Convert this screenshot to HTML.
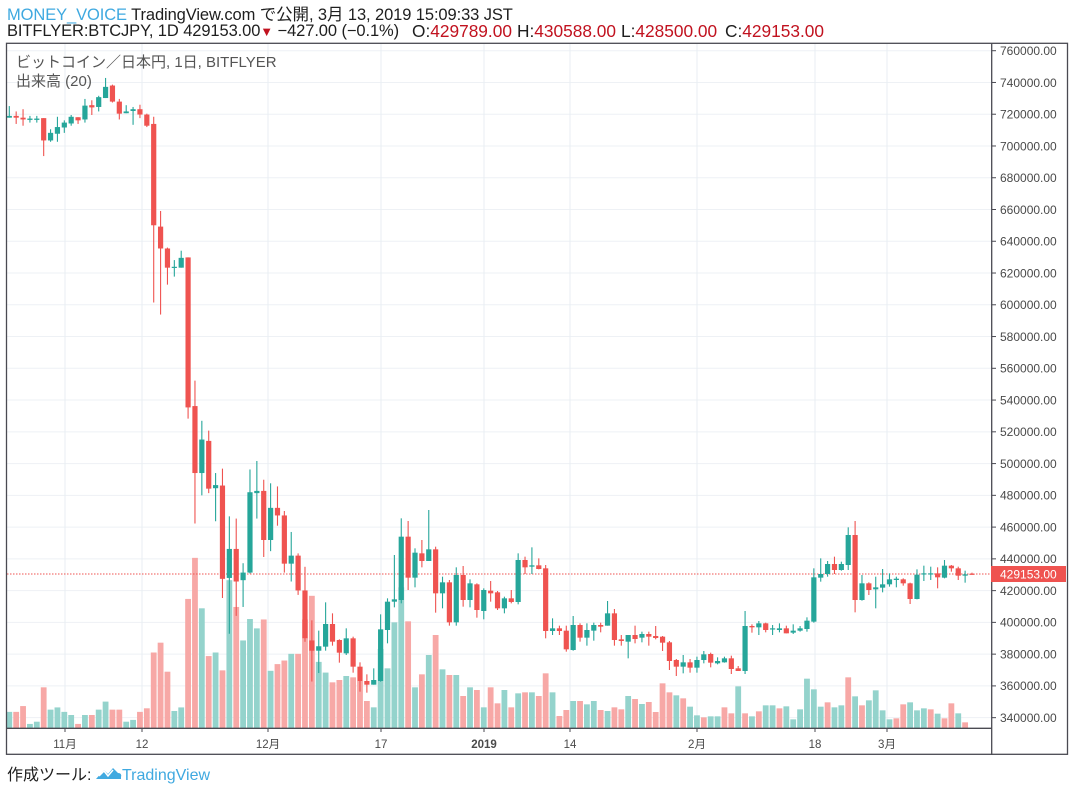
<!DOCTYPE html>
<html><head><meta charset="utf-8">
<style>
html,body{margin:0;padding:0;background:#fff;width:1074px;height:792px;overflow:hidden;font-family:"Liberation Sans","Noto Sans CJK JP",sans-serif;}
.h{position:absolute;font-size:16.5px;line-height:16px;height:16px;color:#1e1e1e;white-space:nowrap;letter-spacing:-0.1px}
.v{font-size:17.3px;letter-spacing:0}
.r{color:#c1121f}
svg text{font-family:"Liberation Sans","Noto Sans CJK JP",sans-serif;}
</style></head><body>
<div class="h" style="top:7px;left:7px"><span style="color:#3fa9e0">MONEY_VOICE</span> TradingView.com で公開, 3月 13, 2019 15:09:33 JST</div>
<div class="h" style="top:23px;left:7px">BITFLYER:BTCJPY, 1D 429153.00<span class="r" style="font-size:13px">▼</span> −427.00 (−0.1%)</div>
<div class="h v" style="top:23px;left:412px">O:<span class="r">429789.00</span></div>
<div class="h v" style="top:23px;left:517px">H:<span class="r">430588.00</span></div>
<div class="h v" style="top:23px;left:621px">L:<span class="r">428500.00</span></div>
<div class="h v" style="top:23px;left:725px">C:<span class="r">429153.00</span></div>
<svg id="s" width="1074" height="792" style="position:absolute;left:0;top:0">
<g id="grid"></g>
<g id="vol"></g>
<line x1="7" y1="574" x2="991" y2="574" stroke="#ef5350" stroke-width="1" stroke-dasharray="1.5,1.5"/>
<g id="cand"></g>
<rect x="6.5" y="43.3" width="1061" height="711" fill="none" stroke="#4a4a52" stroke-width="1.3"/>
<line x1="991.7" y1="43" x2="991.7" y2="755" stroke="#4a4a52" stroke-width="1.3"/>
<line x1="7" y1="728.3" x2="991.7" y2="728.3" stroke="#4a4a52" stroke-width="1.3"/>
<g id="ticks" font-size="12" fill="#4a4a4a"></g>
<rect x="991" y="566" width="75" height="16" fill="#ef5350"/>
<text x="1000" y="578.5" font-size="12" fill="#fff">429153.00</text>
<g font-size="11.5" fill="#4a4a4a" text-anchor="middle">
<text x="65" y="748">11月</text><text x="142" y="748">12</text><text x="268" y="748">12月</text><text x="381" y="748">17</text><text x="484" y="748" font-weight="bold">2019</text><text x="570" y="748">14</text><text x="697" y="748">2月</text><text x="815" y="748">18</text><text x="887" y="748">3月</text>
</g>
<text x="16" y="67" font-size="15" fill="#555">ビットコイン／日本円, 1日, BITFLYER</text>
<text x="16" y="86" font-size="15" fill="#555">出来高 (20)</text>
<text x="7" y="780" font-size="16" fill="#1e1e1e">作成ツール:</text>
<path d="M96 779 L104 770 L108 774 L113 768 L118 773 Q122 773 121 777 L121 779 Z" fill="#3fa9e0"/>
<path d="M99 776 L104 771 L108 776 L113 770" fill="none" stroke="#fff" stroke-width="1.5"/>
<text x="122" y="780" font-size="16" fill="#3fa9e0">TradingView</text>
</svg>
<script>
var A=[
['G',170,174,148,174],['R',170,174,160,188],['R',174,178,155,192],['G',176,179,170,185],['G',176,179,170,185],['R',175,225,175,260],['G',208,225,200,228],['G',195,210,172,228],['G',185,196,180,208],['G',172,187,168,192],['R',173,180,173,188],['G',147,178,132,185],['R',146,151,135,168],['G',128,150,125,160],['G',105,130,85,130],['R',102,138,100,140],['R',138,165,132,178],['G',160,164,146,164],['G',155,159,150,190],['R',155,167,145,175],['R',167,192,165,195],['R',188,415,172,588],['R',418,467,383,615],['R',467,510,465,548],['G',508,510,493,530],['G',488,510,472,510],['R',487,823,487,848],['R',820,970,763,1083],['G',895,970,853,1020],['R',898,1005,875,1015],['G',997,1004,970,1078],['R',998,1207,960,1250],['G',1140,1205,1067,1330],['R',1140,1213,1072,1290],['G',1193,1210,1172,1270],['G',1013,1193,962,1195],['G',1010,1015,943,1072],['R',1010,1120,985,1158],['G',1048,1120,993,1145],['R',1048,1065,1000,1088],['R',1065,1173,1055,1193],['G',1155,1173,1102,1213],['R',1155,1233,1150,1243],['R',1233,1340,1180,1348],['R',1345,1368,1300,1437],['G',1358,1368,1323,1418]];
var AV=[1505,1505,1492,1532,1527,1450,1500,1495,1505,1512,1532,1512,1512,1500,1482,1500,1500,1527,1523,1505,1497,1372,1350,1415,1503,1495,1252,1160,1273,1380,1372,1412,1210,1270,1345,1297,1318,1298,1413,1398,1390,1375,1375,1298,1245,1393];
var B=[
['G',432,500,367,512],['R',432,485,400,497],['R',480,518,478,548],['G',475,520,445,525],['R',475,560,470,578],['R',560,603,547,635],['R',603,614,583,638],['G',600,614,565,614],['G',448,603,403,605],['G',365,450,355,490],['G',358,365,225,382],['G',170,360,115,370],['R',170,293,123,330],['G',218,293,205,322],['R',220,243,180,262],['G',208,243,90,243],['R',208,340,200,398],['G',307,340,290,385],['R',307,427,300,437],['G',285,427,262,437],['R',285,360,258,380],['G',310,360,298,382],['R',313,390,310,413],['G',330,393,325,418],['R',332,340,303,365],['R',337,385,333,390],['G',355,385,350,400],['R',355,366,330,370],['G',240,366,220,373],['R',240,262,230,282],['G',256,260,202,282],['R',256,267,235,268],['R',265,453,255,475],['G',445,453,415,465],['R',445,453,437,465],['R',452,508,437,515],['G',435,510,408,512],['R',435,473,430,485],['G',450,473,430,497],['G',435,452,428,482],['R',435,440,428,457],['G',400,437,363,437],['R',400,480,387,497],['R',478,483,465,497],['G',465,485,465,535],['R',465,477,437,490],['G',462,473,455,487],['R',462,470,455,497]];
var BV=[578,607,600,588,592,603,663,682,507,565,427,322,424,622,583,525,465,568,585,585,648,622,630,682,622,670,630,682,640,637,637,648,580,637,708,690,663,663,673,663,690,693,682,688,648,657,672,666];
var C=[
['R',468,474,438,478],['R',470,488,468,513],['R',487,543,483,570],['R',540,560,537,588],['G',547,560,525,580],['R',547,563,537,578],['G',540,563,530,578],['G',523,540,513,550],['R',522,548,518,562],['G',543,550,532,553],['G',535,547,530,548],['R',535,567,527,582],['R',565,573,558,573],['G',438,573,393,582],['R',438,442,433,458],['G',430,442,423,465],['R',430,450,428,457],['G',445,448,435,465],['G',445,450,430,457],['R',445,460,437,460],['G',452,458,433,462],['G',445,452,438,455],['G',422,447,412,455],['G',292,425,265,428],['G',282,293,235,305],['G',252,282,243,290],['R',252,270,230,282],['G',252,270,245,272],['G',165,255,142,270],['R',165,360,123,397],['G',310,360,285,362],['R',310,330,307,345],['G',322,328,290,385],['G',313,323,267,337],['G',298,313,280,320],['G',296,300,290,322],['R',298,310,295,317],['R',310,357,308,372],['G',284,357,268,358],['G',280,283,257,303],['G',280,283,260,300],['R',280,292,262,325],['G',257,293,240,295],['R',257,265,255,275],['R',265,287,260,300],['G',283,287,272,308],['R',281,283,278,284]];
var CV=[690,696,610,637,646,655,680,706,712,709,709,682,700,619,700,709,694,676,676,685,679,718,688,596,628,680,667,682,676,592,649,676,661,631,691,718,715,673,667,691,685,688,701,715,670,700,727];
var CC=['R','R','R','R','G','R','G','G','R','G','G','R','R','G','R','G','R','G','G','R','G','G','G','G','G','G','R','G','G','R','G','R','G','G','G','G','R','R','G','G','G','R','G','R','R','G','R'];
var BC=B.map(function(d){return d[0]});var AC=A.map(function(d){return d[0]});AC.push('G');
function fa(z){return 40+z/2.24} function fb(z){return 480+z/3}
var cand=[],vols=[];
A.forEach(function(d){cand.push([d[0],fa(d[1]),fa(d[2]),fa(d[3]),fa(d[4])])});
AV.push(1417);AV.forEach(function(v,i){vols.push([AC[i],fa(v)])});
B.forEach(function(d){cand.push([d[0],fb(d[1]),fb(d[2]),fb(d[3]),fb(d[4])])});
BV.forEach(function(v,i){if(i>0)vols.push([BC[i],fb(v)])});
C.forEach(function(d){cand.push([d[0],fb(d[1]),fb(d[2]),fb(d[3]),fb(d[4])])});
CV.forEach(function(v,i){if(i>0)vols.push([CC[i],fb(v)])});
var n=cand.length,x0=9.3,sp=(972-9.3)/(n-1);
var ns='http://www.w3.org/2000/svg';
function el(p,t,a){var e=document.createElementNS(ns,t);for(var k in a)e.setAttribute(k,a[k]);p.appendChild(e);return e}
var g=document.getElementById('grid');
for(var i=0;i<=21;i++){var y=50.7+i*31.76;el(g,'line',{x1:7,x2:991,y1:y,y2:y,stroke:'#eef1f5','stroke-width':1});}
[65,142,268,381,484,570,697,815,887].forEach(function(x){el(g,'line',{x1:x,x2:x,y1:43,y2:728,stroke:'#e8eef3','stroke-width':1});});
var tk=document.getElementById('ticks');
for(var i=0;i<=21;i++){var y=50.7+i*31.76;var p=760000-i*20000;el(tk,'line',{x1:991.7,x2:996,y1:y,y2:y,stroke:'#4a4a52','stroke-width':1});var t=el(tk,'text',{x:1000,y:y+4.3});t.textContent=p+'.00';}
[65,142,268,381,484,570,697,815,887].forEach(function(x){el(tk,'line',{x1:x,x2:x,y1:728,y2:732,stroke:'#4a4a52','stroke-width':1});});
var vg=document.getElementById('vol');
vols.forEach(function(v,i){if(i>=n)return;var x=x0+i*sp;el(vg,'rect',{x:x-2.9,y:v[1],width:5.8,height:728.3-v[1],fill:v[0]=='G'?'#94d3cc':'#f7a8a6'});});
var cg=document.getElementById('cand');
cand.forEach(function(c,i){var x=x0+i*sp;var col=c[0]=='G'?'#26a69a':'#ef5350';
el(cg,'line',{x1:x,x2:x,y1:c[3],y2:c[4],stroke:col,'stroke-width':1.1});
var h=Math.max(c[2]-c[1],1.2);el(cg,'rect',{x:x-2.6,y:c[1],width:5.2,height:h,fill:col});});
</script>
</body></html>
